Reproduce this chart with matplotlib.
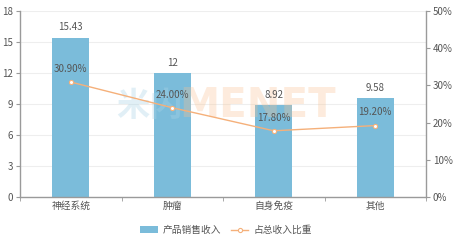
import matplotlib
matplotlib.use("Agg")
import matplotlib.pyplot as plt
from matplotlib.ticker import FuncFormatter
import numpy as np

plt.rcParams['font.family'] = ['Noto Sans CJK SC', 'DejaVu Sans']

categories = ['神经系统', '肿瘤', '自身免疫', '其他']
revenue = [15.43, 12, 8.92, 9.58]
revenue_labels = ['15.43', '12', '8.92', '9.58']
share = [30.90, 24.00, 17.80, 19.20]
left_ticks = [0, 3, 6, 9, 12, 15, 18]
right_ticks = [0, 10, 20, 30, 40, 50]

bar_color = '#7bbcda'
line_color = '#f5b07a'
text_color = '#555555'
axis_color = '#9a9a9a'

fig = plt.figure(figsize=(4.54, 2.4), dpi=100)
ax = fig.add_axes([20/454, 1 - 197/240, 406/454, 186/240])
ax2 = ax.twinx()

x = np.arange(len(categories))
ax.bar(x, revenue, width=0.365, color=bar_color, zorder=2, label='产品销售收入')
ax.set_xlim(-0.5, len(categories) - 0.5)
ax.set_ylim(0, 18)
ax.set_yticks(left_ticks)
ax.set_xticks(x)
ax.set_xticklabels(categories)
ax.set_xticks(np.arange(-0.5, len(categories)), minor=True)
ax.tick_params(axis='x', which='major', length=0, labelsize=7, colors=text_color, pad=3)
ax.tick_params(axis='x', which='minor', length=3, color=axis_color)
ax.tick_params(axis='y', length=3, labelsize=7, colors=text_color, color=axis_color, pad=2)
ax.grid(axis='y', color='#eeeeee', linewidth=0.8, zorder=0)
ax.set_axisbelow(True)
for s in ['top', 'right']:
    ax.spines[s].set_visible(False)
for s in ['left', 'bottom']:
    ax.spines[s].set_color(axis_color)
    ax.spines[s].set_linewidth(1.0)

for xi, v, lab in zip(x, revenue, revenue_labels):
    ax.text(xi, v + 0.5, lab, ha='center', va='bottom', fontsize=7, color=text_color, zorder=6)

# watermark (drawn over bars, semi-transparent)
ax.text(0.78, 8.8, '米内', ha='center', va='center', fontsize=24, color='#a9d3e6', alpha=0.35,
        fontweight='bold', zorder=4)
ax.text(1.84, 8.8, 'MENET', ha='center', va='center', fontsize=29, color='#f9c08f', alpha=0.3,
        fontweight='bold', family=['DejaVu Sans'], zorder=4)

ax2.plot(x, share, color=line_color, linewidth=1.0, marker='o', markersize=3,
         markerfacecolor='white', markeredgecolor=line_color, markeredgewidth=0.8, zorder=3, label='占总收入比重')
ax2.set_ylim(0, 50)
ax2.set_yticks(right_ticks)
ax2.yaxis.set_major_formatter(FuncFormatter(lambda v, p: f'{int(v)}%'))
ax2.tick_params(axis='y', length=3, labelsize=7, colors=text_color, color=axis_color, pad=2)
for s in ['top', 'left', 'bottom']:
    ax2.spines[s].set_visible(False)
ax2.spines['right'].set_color(axis_color)
ax2.spines['right'].set_linewidth(1.0)

for xi, v in zip(x, share):
    ax2.text(xi, v + 2.2, f'{v:.2f}%', ha='center', va='bottom', fontsize=7, color=text_color, zorder=6)

h1, l1 = ax.get_legend_handles_labels()
h2, l2 = ax2.get_legend_handles_labels()
fig.legend(h1 + h2, l1 + l2, loc='center', bbox_to_anchor=(226/454, 1 - 230/240), ncol=2,
           frameon=False, fontsize=7, labelcolor=text_color, handlelength=1.8, columnspacing=1.0,
           handletextpad=0.5)

fig.savefig('out.png', dpi=100)
